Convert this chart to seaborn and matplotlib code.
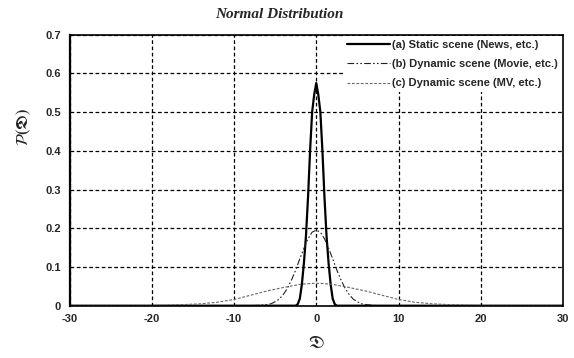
import matplotlib
matplotlib.use("Agg")
import matplotlib.pyplot as plt
import seaborn as sns
import pandas as pd

# ---- data ----
x_a = [-30, -2.5, -2.25, -2.0, -1.75, -1.5, -1.25, -1.0, -0.75, -0.5, -0.25, 0,
       0.25, 0.5, 0.75, 1.0, 1.25, 1.5, 1.75, 2.0, 2.25, 2.5, 30]
y_a = [0, 0, 0.004, 0.018, 0.055, 0.11, 0.18, 0.28, 0.40, 0.50, 0.545, 0.575,
       0.545, 0.50, 0.40, 0.28, 0.18, 0.11, 0.055, 0.018, 0.004, 0, 0]

x_b = [-30, -8, -7, -6, -5.5, -5, -4.5, -4, -3.5, -3, -2.5, -2, -1.5, -1, -0.5, 0,
       0.5, 1, 1.5, 2, 2.5, 3, 3.5, 4, 4.5, 5, 5.5, 6, 7, 8, 30]
y_b = [0, 0, 0.001, 0.003, 0.005, 0.010, 0.017, 0.029, 0.045, 0.067, 0.092, 0.121, 0.148, 0.173, 0.19, 0.195,
       0.19, 0.173, 0.148, 0.121, 0.092, 0.067, 0.045, 0.029, 0.017, 0.010, 0.005, 0.003, 0.001, 0, 0]

x_c = [-30, -22, -20, -18, -16, -14, -12, -10, -8, -6, -4, -3, -2, -1, 0,
       1, 2, 3, 4, 6, 8, 10, 12, 14, 16, 18, 20, 22, 30]
y_c = [0, 0, 0.0005, 0.0015, 0.003, 0.005, 0.009, 0.016, 0.027, 0.038, 0.047, 0.051, 0.055, 0.057, 0.058,
       0.057, 0.055, 0.051, 0.047, 0.038, 0.027, 0.016, 0.009, 0.005, 0.003, 0.0015, 0.0005, 0, 0]

labels = ["(a) Static scene (News, etc.)",
          "(b) Dynamic scene (Movie, etc.)",
          "(c) Dynamic scene (MV, etc.)"]
x_ticks = [-30, -20, -10, 0, 10, 20, 30]
y_ticks = [0, 0.1, 0.2, 0.3, 0.4, 0.5, 0.6, 0.7]
y_tick_labels = ["0", "0.1", "0.2", "0.3", "0.4", "0.5", "0.6", "0.7"]
title = "Normal Distribution"

df = pd.concat([
    pd.DataFrame({"x": x_a, "y": y_a, "s": labels[0]}),
    pd.DataFrame({"x": x_b, "y": y_b, "s": labels[1]}),
    pd.DataFrame({"x": x_c, "y": y_c, "s": labels[2]}),
])

sns.set_style("white")
plt.rcParams["font.family"] = ["Liberation Sans", "DejaVu Sans"]
plt.rcParams["mathtext.fontset"] = "stix"

fig = plt.figure(figsize=(5.74, 3.58), dpi=100)
ax = fig.add_axes([69.5 / 574, 1 - 305.7 / 358, (563 - 69.5) / 574, (305.7 - 34.6) / 358])

styles = {
    labels[0]: dict(color="black", lw=1.6, ls="-"),
    labels[1]: dict(color="#222222", lw=0.8, ls=(0, (6, 2, 1.5, 2, 1.5, 2))),
    labels[2]: dict(color="#666666", lw=0.8, ls=(0, (2.5, 1.5))),
}
for lab in labels:
    sub = df[df["s"] == lab]
    sns.lineplot(data=sub, x="x", y="y", ax=ax, label=lab, **styles[lab])

ax.set_xlim(-30, 30)
ax.set_ylim(0, 0.7)
ax.set_xticks(x_ticks)
ax.set_xticklabels([str(t) for t in x_ticks], fontweight="bold", fontsize=8)
ax.set_yticks(y_ticks)
ax.set_yticklabels(y_tick_labels, fontweight="bold", fontsize=8)
ax.tick_params(length=0, pad=6)
ax.grid(True, color="black", ls=(0, (3, 2)), lw=0.9)
for sp in ax.spines.values():
    sp.set_color("black")
    sp.set_linewidth(1.2)
ax.spines["left"].set_linewidth(1.6)
ax.set_xlabel("")
ax.set_ylabel("")

leg = ax.legend(loc="upper right", bbox_to_anchor=(1.0, 1.0),
                prop={"size": 8, "weight": "bold"},
                handlelength=3.9, handletextpad=0.2, labelspacing=0.85,
                borderaxespad=0.1, borderpad=0.35, frameon=True, fancybox=False)
leg.get_frame().set_edgecolor("none")
leg.get_frame().set_facecolor("white")
leg.get_frame().set_alpha(1)

fig.text(279 / 574, 1 - 15 / 358, title, ha="center", va="center",
         fontsize=11, fontweight="bold", style="italic", family="Liberation Serif")
fig.text(24 / 574, 1 - 127 / 358, r"$\mathbf{\mathcal{P}(\mathfrak{D})}$", rotation=90,
         ha="center", va="center", fontsize=12)
fig.text(316 / 574, 1 - 344 / 358, r"$\mathfrak{D}$", ha="center", va="center", fontsize=13)

fig.savefig("out.png", dpi=100, facecolor="white")
